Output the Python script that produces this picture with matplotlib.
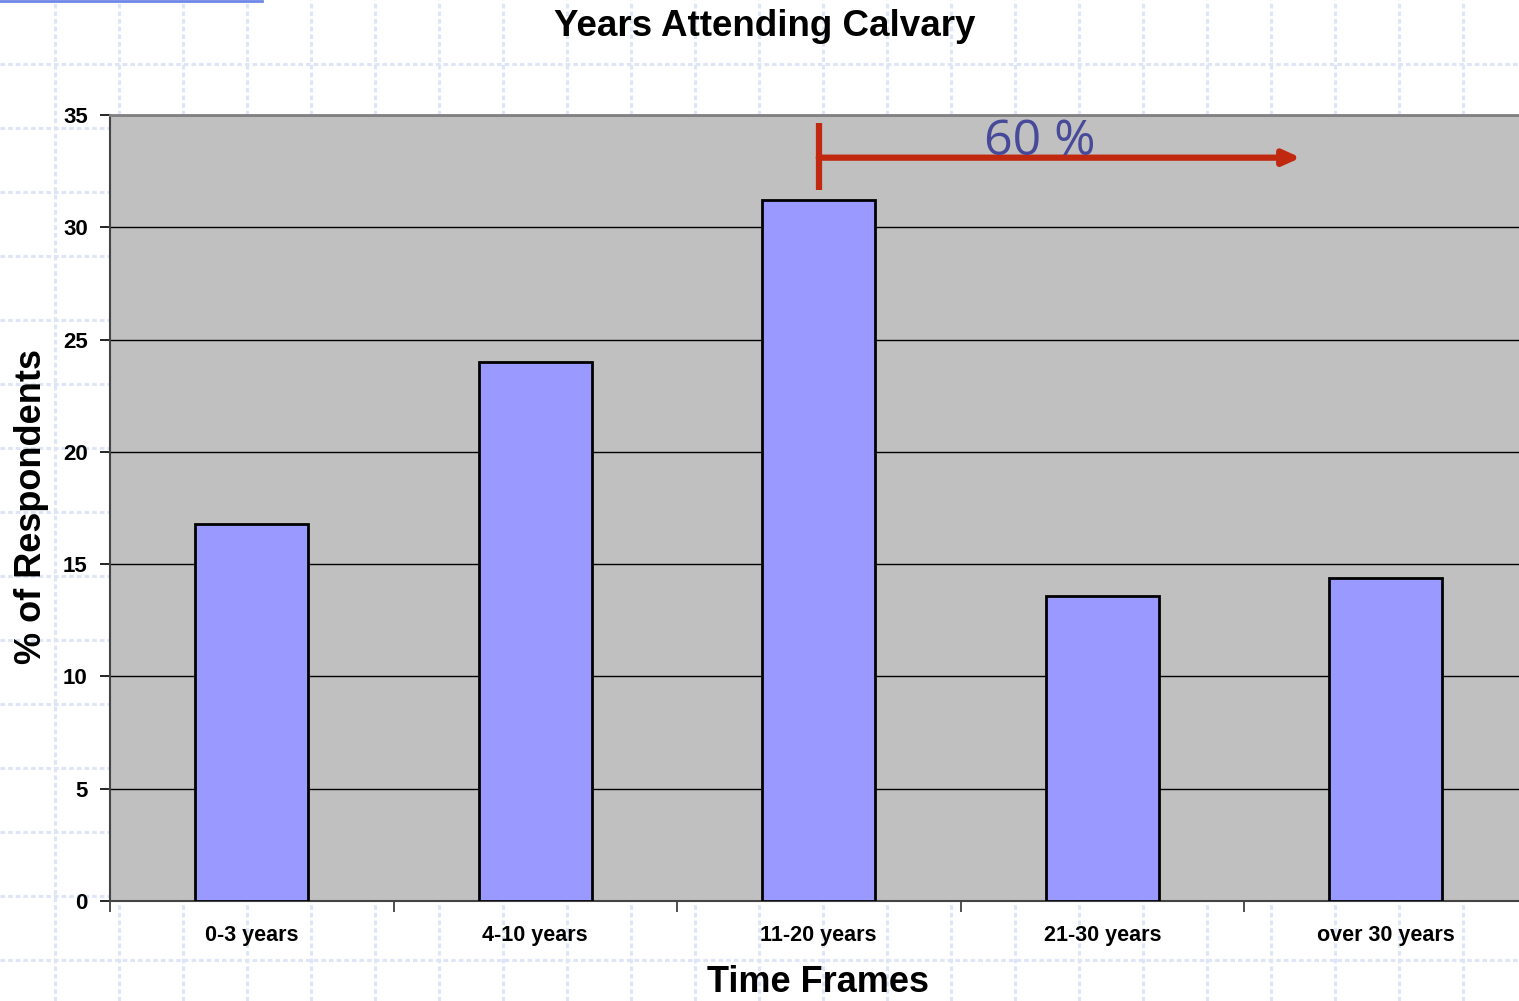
import numpy as np
import matplotlib.pyplot as plt
from matplotlib.lines import Line2D

# data
categories = ['0-3 years', '4-10 years', '11-20 years', '21-30 years', 'over 30 years']
values = [16.8, 24.0, 31.2, 13.6, 14.4]
y_ticks = [0, 5, 10, 15, 20, 25, 30, 35]

plt.rcParams['font.family'] = ['Liberation Sans', 'DejaVu Sans']

fig = plt.figure(figsize=(15.19, 10.01), dpi=100)
fig.patch.set_facecolor('white')

# graph-paper background
W, H = 1519, 1001
for gx in np.arange(55, W, 64):
    fig.add_artist(Line2D([gx / W, gx / W], [0, 1], color='#dfe5f8', lw=2.2,
                          ls=(0, (1.5, 1)), zorder=0))
for gy in np.arange(64, H, 64):
    fig.add_artist(Line2D([0, 1], [1 - gy / H, 1 - gy / H], color='#dfe5f8', lw=2.2,
                          ls=(0, (1.5, 1)), zorder=0))
fig.add_artist(Line2D([0, 262 / W], [0.999, 0.999], color='#6f88e8', lw=2, zorder=1))

ax = fig.add_axes([110 / W, 100 / H, 1417.5 / W, 786 / H])
ax.set_facecolor('#c0c0c0')

x = np.arange(len(categories))
ax.bar(x, values, width=0.4, color='#9999ff', edgecolor='black', linewidth=2, zorder=3)

ax.set_xlim(-0.5, len(categories) - 0.5)
ax.set_ylim(0, 35)
ax.set_yticks(y_ticks)
ax.set_yticklabels([str(t) for t in y_ticks], fontsize=16, fontweight='bold')
ax.yaxis.grid(True, color='black', linewidth=1)
ax.set_axisbelow(True)

# category labels between boundary ticks
ax.set_xticks(np.arange(-0.5, len(categories), 1.0))
ax.set_xticklabels([])
ax.set_xticks(x, minor=True)
ax.set_xticklabels(categories, minor=True, fontsize=15.5, fontweight='bold')
ax.tick_params(axis='x', which='minor', length=0, pad=17)
ax.tick_params(axis='x', which='major', length=8, width=1.2, color='#333333')
ax.tick_params(axis='y', length=7, width=1.2, pad=9)

ax.spines['right'].set_visible(False)
ax.spines['top'].set_color('#808080')
ax.spines['top'].set_linewidth(2)
ax.spines['left'].set_color('#444444')
ax.spines['left'].set_linewidth(1.5)
ax.spines['bottom'].set_color('#444444')
ax.spines['bottom'].set_linewidth(1.5)

fig.text(32 / W, 1 - 507 / H, '% of Respondents', rotation=90, ha='center', va='center',
         fontsize=26, fontweight='bold')
fig.text(818 / W, 1 - 982 / H, 'Time Frames', ha='center', va='center',
         fontsize=26, fontweight='bold')
fig.text(765 / W, 1 - 26 / H, 'Years Attending Calvary', ha='center', va='center',
         fontsize=26.5, fontweight='bold')

# 60 % annotation
ax.plot([2, 2], [31.65, 34.65], color='#c0280f', lw=4.5, solid_capstyle='butt', zorder=5)
ax.annotate('', xy=(3.7, 33.1), xytext=(2, 33.1),
            arrowprops=dict(arrowstyle='-|>,head_length=1.0,head_width=0.45',
                            color='#c0280f', lw=4.5, shrinkA=0, shrinkB=0), zorder=5)
ax.text(2.78, 33.2, '60 %', color='#464a98', fontsize=36, ha='center', va='baseline',
        family=['Open Sans', 'DejaVu Sans'], zorder=6)

fig.savefig('out.png', dpi=100)
